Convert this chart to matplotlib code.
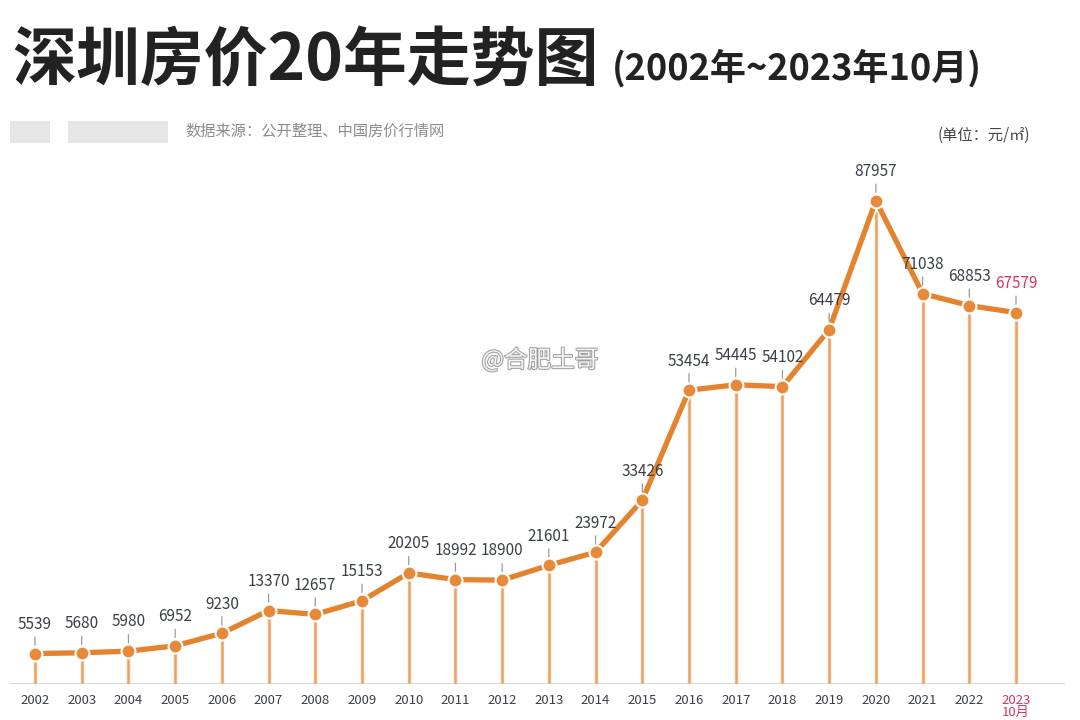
import matplotlib.pyplot as plt
import matplotlib.patheffects as pe
import numpy as np

plt.rcParams['font.family'] = ['Noto Sans CJK SC', 'DejaVu Sans']

years = ['2002', '2003', '2004', '2005', '2006', '2007', '2008', '2009', '2010', '2011',
         '2012', '2013', '2014', '2015', '2016', '2017', '2018', '2019', '2020', '2021',
         '2022', '2023\n10月']
prices = [5539, 5680, 5980, 6952, 9230, 13370, 12657, 15153, 20205, 18992,
          18900, 21601, 23972, 33426, 53454, 54445, 54102, 64479, 87957, 71038,
          68853, 67579]

orange = '#E4822E'
stem_c = '#F2B784'
red = '#D8345F'

fig = plt.figure(figsize=(10.8, 7.2), dpi=100)
fig.patch.set_facecolor('white')

# axes placed so 2002 -> x=35px, 2023 -> x=1016px, baseline at y=684px
px_year = (1016 - 35) / 21
left_px, right_px = 10, 1065
ax = fig.add_axes([left_px / 1080, 1 - 684 / 720, (right_px - left_px) / 1080, (684 - 160) / 720])
x = np.arange(len(prices))
ax.set_xlim(-(35 - left_px) / px_year, 21 + (right_px - 1016) / px_year)
ax.set_ylim(0, 524 / 0.005496)

ax.vlines(x, 0, prices, color=stem_c, lw=2.4, zorder=1)
ax.vlines(x, 0, prices, color='#E9A060', lw=0.8, zorder=1)
ax.axhline(0, color='#D0D0D0', lw=1.2, zorder=0)

ax.plot(x, prices, color=orange, lw=3.8, zorder=2, solid_capstyle='butt',
        path_effects=[pe.Stroke(linewidth=6, foreground='white'), pe.Normal()])
ax.plot(x, prices, 'o', color='#E8893A', ms=10, mec='white', mew=1.5, zorder=3)

for i, v in enumerate(prices):
    c = red if i == len(prices) - 1 else '#3A3F48'
    ax.annotate(str(v), (i, v), xytext=(0, 21), textcoords='offset points',
                ha='center', va='center', fontsize=11, color=c,
                arrowprops=dict(arrowstyle='-', color='#9A9A9A', lw=0.9,
                                shrinkA=1, shrinkB=6))

ax.set_xticks(x)
ax.set_xticklabels(years, fontsize=9.5, color='#3A3F48', linespacing=0.9)
ax.get_xticklabels()[-1].set_color(red)
ax.tick_params(axis='x', length=0, pad=7)
ax.set_yticks([])
for s in ax.spines.values():
    s.set_visible(False)
ax.patch.set_alpha(0)

# titles and notes
fig.text(12 / 1080, 1 - 62 / 720, '深圳房价20年走势图', fontsize=46, fontweight='bold',
         color='#222222', va='center', ha='left')
fig.text(612 / 1080, 1 - 68 / 720, '(2002年~2023年10月)', fontsize=26, fontweight='bold',
         color='#222222', va='center', ha='left')
fig.text(185 / 1080, 1 - 131 / 720, '数据来源：公开整理、中国房价行情网', fontsize=11,
         color='#8C8C8C', va='center', ha='left')
fig.text(1030 / 1080, 1 - 135 / 720, '(单位：元/㎡)', fontsize=11,
         color='#444444', va='center', ha='right')
# blurred source block
fig.patches.append(plt.Rectangle((10 / 1080, 1 - 143 / 720), 40 / 1080, 22 / 720,
                                 transform=fig.transFigure, color='#E6E6E6', lw=0))
fig.patches.append(plt.Rectangle((68 / 1080, 1 - 143 / 720), 100 / 1080, 22 / 720,
                                 transform=fig.transFigure, color='#E6E6E6', lw=0))
# watermark
fig.text(540 / 1080, 1 - 360 / 720, '@合肥土哥', fontsize=17, color='#F4F4F4',
         va='center', ha='center',
         path_effects=[pe.withStroke(linewidth=1.5, foreground='#A0A0A0')])

fig.savefig('out.png', dpi=100, facecolor='white')
